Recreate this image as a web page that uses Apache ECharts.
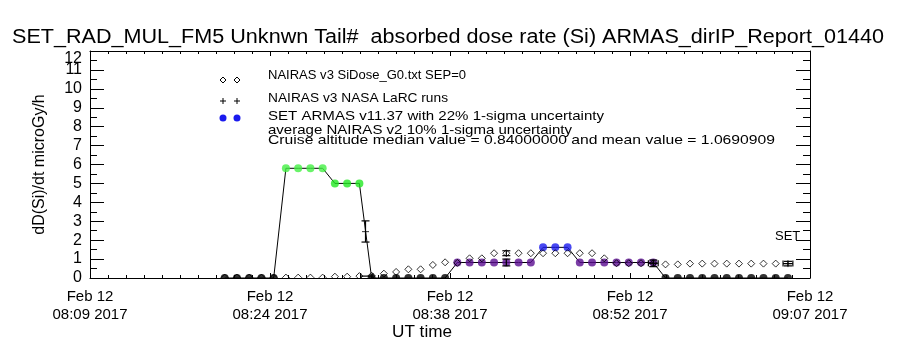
<!DOCTYPE html>
<html>
<head>
<meta charset="utf-8">
<script src="https://cdn.jsdelivr.net/npm/echarts@6/dist/echarts.min.js"></script>
<style>
  html, body { margin: 0; padding: 0; background: #fff; }
  #chart { width: 900px; height: 350px; }
</style>
</head>
<body>
<div id="chart"></div>
<script>
// sample index along the flight (one sample per step)
const sampleIdx = [11, 12, 13, 14, 15, 16, 17, 18, 19, 20, 21, 22, 23, 24, 25, 26, 27, 28, 29, 30,
  31, 32, 33, 34, 35, 36, 37, 38, 39, 40, 41, 42, 43, 44, 45, 46, 47, 48, 49, 50,
  51, 52, 53, 54, 55, 56, 57];

// SET ARMAS dose rate, microGy/h
const armasDose = [0, 0, 0, 0, 0, 5.8, 5.8, 5.8, 5.8, 5.0, 5.0, 5.0, 0, 0, 0, 0, 0, 0, 0, 0.82,
  0.82, 0.82, 0.82, 0.82, 0.82, 0.82, 1.62, 1.62, 1.62, 0.82, 0.82, 0.82, 0.82, 0.82, 0.82, 0.82, 0, 0, 0, 0,
  0, 0, 0, 0, 0, 0, 0];

// NAIRAS v3 SiDose_G0 (diamonds), samples 11..56
const nairasDose = [0.02, 0.02, 0.02, 0.02, 0.02, 0.02, 0.02, 0.02, 0.02, 0.07, 0.07, 0.1, 0.12, 0.23, 0.32, 0.46, 0.46, 0.69, 0.83, 0.8,
  1.04, 1.04, 1.31, 1.31, 1.31, 1.31, 1.31, 1.31, 1.31, 1.31, 1.31, 1.04, 0.78, 0.78, 0.78, 0.78, 0.72, 0.72, 0.76, 0.76,
  0.76, 0.76, 0.76, 0.76, 0.76, 0.76];

// NASA LaRC runs and uncertainty bars
const larcPoints = [[22.5, 2.45], [46, 0.78], [57, 0.76]];
const errorBarsV = [[22.5, 1.9, 3.02], [34, 1.18, 1.44], [34, 0.64, 1.0], [46, 0.6, 0.95], [57, 0.64, 0.88]];
const errorBarsH = [[22.1, 23.1, 0.1], [45.6, 46.4, 0.78], [56.6, 57.4, 0.76]];

const timeLabels = ['Feb 12\n08:09 2017', 'Feb 12\n08:24 2017', 'Feb 12\n08:38 2017', 'Feb 12\n08:52 2017', 'Feb 12\n09:07 2017'];
const xStep = 14.7;
const yTop = 12;

const titleText = 'SET_RAD_MUL_FM5 Unknwn Tail#  absorbed dose rate (Si) ARMAS_dirIP_Report_01440';
const legendLines = [
  'NAIRAS v3 SiDose_G0.txt SEP=0',
  'NAIRAS v3 NASA LaRC runs',
  'SET ARMAS v11.37 with 22% 1-sigma uncertainty',
  'average NAIRAS v2 10% 1-sigma uncertainty',
  'Cruise altitude median value = 0.84000000 and mean value = 1.0690909'
];
const legendTops = [69, 92, 110, 124, 134];
const legendWidths = [198, 180, 336, 304, 507];

const FONT = 'Liberation Sans';
const chart = echarts.init(document.getElementById('chart'));

// stretch text horizontally to mimic the wide plotting font
const ctx = document.createElement('canvas').getContext('2d');
function stretch(text, font, width) {
  ctx.font = font;
  return width / ctx.measureText(text).width;
}

const armasData = sampleIdx.map((x, i) => [x, armasDose[i]]);
const nairasData = nairasDose.map((v, i) => [sampleIdx[i], v]);

function baseX(pos, show) {
  return {
    type: 'value', position: pos, min: 0, max: xStep * 4, interval: xStep,
    axisLine: { show: true, onZero: false, lineStyle: { color: '#000', width: 1 } },
    axisTick: { show: true, inside: true, length: 5, lineStyle: { color: '#000' } },
    minorTick: { show: true, splitNumber: 10, length: 3, lineStyle: { color: '#000' } },
    splitLine: { show: false },
    axisLabel: {
      show: show, margin: 10, color: '#000', fontFamily: FONT, fontSize: 15, lineHeight: 18,
      formatter: v => timeLabels[Math.round(v / xStep)]
    }
  };
}
function baseY(pos, show) {
  return {
    type: 'value', position: pos, min: 0, max: yTop, interval: 1,
    axisLine: { show: true, onZero: false, lineStyle: { color: '#000', width: 1 } },
    axisTick: { show: true, inside: true, length: 14, lineStyle: { color: '#000' } },
    minorTick: { show: true, splitNumber: 2, length: 7, lineStyle: { color: '#000' } },
    splitLine: { show: false },
    axisLabel: {
      show: show, margin: 8, color: '#000', fontFamily: FONT, fontSize: 16,
      showMaxLabel: false, showMinLabel: true, hideOverlap: false
    }
  };
}

const yAxisMain = baseY('left', true);
yAxisMain.name = 'dD(Si)/dt microGy/h';
yAxisMain.nameLocation = 'middle';
yAxisMain.nameGap = 42;
yAxisMain.nameTextStyle = { color: '#000', fontFamily: FONT, fontSize: 16 };

// label-only axis for the top value, drawn flush with the upper edge
const yAxisTopLabel = {
  type: 'value', position: 'left', offset: 0, min: 0, max: yTop, interval: 1,
  axisLine: { show: false }, axisTick: { show: false }, splitLine: { show: false },
  axisLabel: {
    margin: 8, color: '#000', fontFamily: FONT, fontSize: 16, verticalAlign: 'top',
    showMaxLabel: true, showMinLabel: false, hideOverlap: false,
    formatter: v => (v === yTop ? String(v) : '')
  }
};

const titleFont = '20px "' + FONT + '"';
const legendFont = '13px "' + FONT + '"';

const legendGraphics = [];
legendLines.forEach((t, i) => {
  legendGraphics.push({
    type: 'text', x: 268, y: legendTops[i], scaleX: stretch(t, legendFont, legendWidths[i]),
    style: { text: t, fill: '#000', font: legendFont }
  });
});
[223, 237].forEach(x => {
  legendGraphics.push({ type: 'polygon', shape: { points: [[x, 77], [x + 3, 80], [x, 83], [x - 3, 80]] },
    style: { fill: 'none', stroke: '#000', lineWidth: 1 } });
  legendGraphics.push({ type: 'polyline', shape: { points: [[x - 3, 101], [x + 3, 101]] }, style: { stroke: '#000', lineWidth: 1 } });
  legendGraphics.push({ type: 'polyline', shape: { points: [[x, 98], [x, 104]] }, style: { stroke: '#000', lineWidth: 1 } });
  legendGraphics.push({ type: 'circle', shape: { cx: x, cy: 118, r: 3.5 }, style: { fill: '#1a1aee' } });
});

chart.setOption({
  animation: false,
  backgroundColor: '#fff',
  grid: { left: 90, right: 90, top: 51, bottom: 72 },
  xAxis: [baseX('bottom', true), baseX('top', false)],
  yAxis: [yAxisMain, baseY('right', false), yAxisTopLabel],
  visualMap: {
    show: false, type: 'piecewise', seriesIndex: 1, dimension: 1,
    pieces: [
      { lt: 0.3, color: '#000000' },
      { gte: 0.3, lt: 1.3, color: '#5a0c90' },
      { gte: 1.3, lt: 3, color: '#1a1aee' },
      { gte: 3, lt: 5.4, color: '#22e822' },
      { gte: 5.4, color: '#44f044' }
    ]
  },
  graphic: [
    { type: 'text', x: 12, y: 27, scaleX: stretch(titleText, titleFont, 872),
      style: { text: titleText, fill: '#000', font: titleFont } },
    { type: 'text', x: 392, y: 325, scaleX: stretch('UT time', '16px "' + FONT + '"', 60),
      style: { text: 'UT time', fill: '#000', font: '16px "' + FONT + '"' } },
    { type: 'text', x: 775, y: 230, style: { text: 'SET', fill: '#000', font: '13px "' + FONT + '"' } },
    // hides the lower half of markers sitting on the bottom axis, like the plot clipping
    { type: 'rect', z: 100, shape: { x: 90, y: 279, width: 720, height: 7 }, style: { fill: '#fff' } }
  ].concat(legendGraphics),
  series: [
    {
      type: 'line', data: armasData, showSymbol: false, z: 2,
      lineStyle: { color: '#000', width: 1 }
    },
    {
      type: 'scatter', data: armasData, symbol: 'circle', symbolSize: 8, z: 3
    },
    {
      type: 'scatter', data: nairasData, symbol: 'diamond', symbolSize: [7, 7], z: 4,
      itemStyle: { color: 'rgba(0,0,0,0)', borderColor: '#000', borderWidth: 1 }
    },
    {
      type: 'custom', z: 5, data: errorBarsV,
      renderItem: (params, api) => {
        const a = api.coord([api.value(0), api.value(1)]);
        const b = api.coord([api.value(0), api.value(2)]);
        const st = { stroke: '#000', lineWidth: 1.2 };
        return { type: 'group', children: [
          { type: 'line', shape: { x1: a[0], y1: a[1], x2: b[0], y2: b[1] }, style: st },
          { type: 'line', shape: { x1: a[0] - 4, y1: a[1], x2: a[0] + 4, y2: a[1] }, style: st },
          { type: 'line', shape: { x1: b[0] - 4, y1: b[1], x2: b[0] + 4, y2: b[1] }, style: st }
        ] };
      }
    },
    {
      type: 'custom', z: 5, data: errorBarsH,
      renderItem: (params, api) => {
        const a = api.coord([api.value(0), api.value(2)]);
        const b = api.coord([api.value(1), api.value(2)]);
        const st = { stroke: '#000', lineWidth: 1.2 };
        return { type: 'group', children: [
          { type: 'line', shape: { x1: a[0], y1: a[1], x2: b[0], y2: b[1] }, style: st },
          { type: 'line', shape: { x1: a[0], y1: a[1] - 3, x2: a[0], y2: a[1] + 3 }, style: st },
          { type: 'line', shape: { x1: b[0], y1: b[1] - 3, x2: b[0], y2: b[1] + 3 }, style: st }
        ] };
      }
    },
    {
      type: 'scatter', data: larcPoints, z: 6, symbolSize: 7,
      symbol: 'path://M0,3.5L7,3.5M3.5,0L3.5,7',
      itemStyle: { color: 'rgba(0,0,0,0)', borderColor: '#000', borderWidth: 1 }
    }
  ]
});
</script>
</body>
</html>
